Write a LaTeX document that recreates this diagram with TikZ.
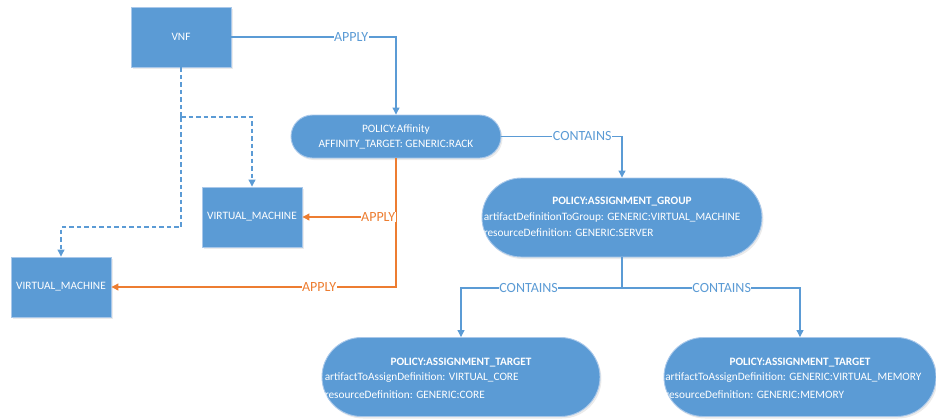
\documentclass[tikz,border=0pt]{standalone}
\usepackage{fontspec}
\setmainfont{Carlito}
\usetikzlibrary{arrows.meta,shadows}
\definecolor{boxblue}{HTML}{5B9BD5}
\definecolor{boxedge}{HTML}{A9C8EA}
\definecolor{linkblue}{HTML}{5B9BD5}
\definecolor{linkorange}{HTML}{ED7D31}
\begin{document}
\begin{tikzpicture}[x=1pt,y=-1pt,
  shaded/.style={drop shadow={opacity=0.16, shadow xshift=1.5pt, shadow yshift=-2pt}},
  rbox/.style={shaded, draw=boxedge, line width=0.9pt, fill=boxblue, text=white,
    font=\fontsize{11.3}{13}\selectfont, minimum width=100pt, minimum height=60pt, inner sep=0pt},
  pill/.style={shaded, draw=boxedge, line width=0.9pt, fill=boxblue, text=white,
    font=\fontsize{11.3}{15}\selectfont, align=center, inner sep=0pt},
  intext/.style={text=white, font=\fontsize{11.3}{13}\selectfont, inner sep=0pt},
  intitle/.style={intext, font=\fontsize{11.3}{13}\selectfont\bfseries},
  blink/.style={draw=linkblue, line width=1.1pt, -{Triangle[length=7pt,width=7pt]}},
  dlink/.style={blink, dash pattern=on 4.5pt off 3pt},
  olink/.style={draw=linkorange, line width=1.1pt, -{Triangle[length=7pt,width=7pt]}},
  blbl/.style={fill=white, inner sep=0.5pt, text=linkblue, font=\fontsize{14}{16}\selectfont},
  olbl/.style={fill=white, inner sep=0.5pt, text=linkorange, font=\fontsize{14}{16}\selectfont}
]
\useasboundingbox (0,0) rectangle (936,418);

% rectangular elements
\node[rbox] (vnf) at (181,37) {VNF};
\node[rbox] (vm1) at (252,217) {VIRTUAL\_MACHINE};
\node[rbox] (vm2) at (61,287) {VIRTUAL\_MACHINE};

% policy elements
\node[pill, minimum width=210pt, minimum height=43pt, rounded corners=21.5pt] (aff) at (396,136.5)
  {POLICY:Affinity\\AFFINITY\_TARGET: GENERIC:RACK};
\node[pill, minimum width=280pt, minimum height=79pt, rounded corners=39.5pt] (grp) at (622,217.5) {};
\node[pill, minimum width=278pt, minimum height=79pt, rounded corners=39.5pt] (t1) at (461,377) {};
\node[pill, minimum width=272pt, minimum height=79pt, rounded corners=39.5pt] (t2) at (800,377) {};

\node[intitle] (grpa) at ([yshift=15.5pt]grp.center) {POLICY:ASSIGNMENT\_GROUP};
\node[intext, anchor=west] (grpb) at ([xshift=2pt,yshift=0.5pt]grp.west) {artifactDefinitionToGroup: GENERIC:VIRTUAL\_MACHINE};
\node[intext, anchor=west] (grpc) at ([xshift=2pt,yshift=-15.5pt]grp.west) {resourceDefinition: GENERIC:SERVER};

\node[intitle] (t1a) at ([yshift=14pt]t1.center) {POLICY:ASSIGNMENT\_TARGET};
\node[intext, anchor=west] (t1b) at ([xshift=3pt,yshift=-1pt]t1.west) {artifactToAssignDefinition: VIRTUAL\_CORE};
\node[intext, anchor=west] (t1c) at ([xshift=3pt,yshift=-18pt]t1.west) {resourceDefinition: GENERIC:CORE};

\node[intitle] (t2a) at ([yshift=14pt]t2.center) {POLICY:ASSIGNMENT\_TARGET};
\node[intext, anchor=west] (t2b) at ([xshift=1.5pt,yshift=-1pt]t2.west) {artifactToAssignDefinition: GENERIC:VIRTUAL\_MEMORY};
\node[intext, anchor=west] (t2c) at ([xshift=1.5pt,yshift=-18pt]t2.west) {resourceDefinition: GENERIC:MEMORY};

% connectors
\coordinate (j1) at (181,117);
\coordinate (j2) at (181,227);
\coordinate (split) at (622,288);

\draw[blink] (vnf.east) -- node[blbl, pos=0.727] {APPLY} (vnf.east -| aff.north) -- (aff.north);
\draw[blink] (aff.east) -- node[blbl, pos=0.67] {CONTAINS} (aff.east -| grp.north) -- (grp.north);

\draw[dlink, -] (vnf.south) -- (j1);
\draw[dlink] (j1) -| (vm1.north);
\draw[dlink] (j1) -- (j2) -| (vm2.north);

\draw[olink] (aff.south) -- (aff.south |- vm2.east) -- node[olbl, pos=0.27] {APPLY} (vm2.east);
\draw[olink] (aff.south |- vm1.east) -- node[olbl, pos=0.19] {APPLY} (vm1.east);

\draw[blink, -] (grp.south) -- (split);
\draw[blink] (split) -| node[blbl, pos=0.29] {CONTAINS} (t1.north);
\draw[blink] (split) -| node[blbl, pos=0.28] {CONTAINS} (t2.north);
\end{tikzpicture}
\end{document}
